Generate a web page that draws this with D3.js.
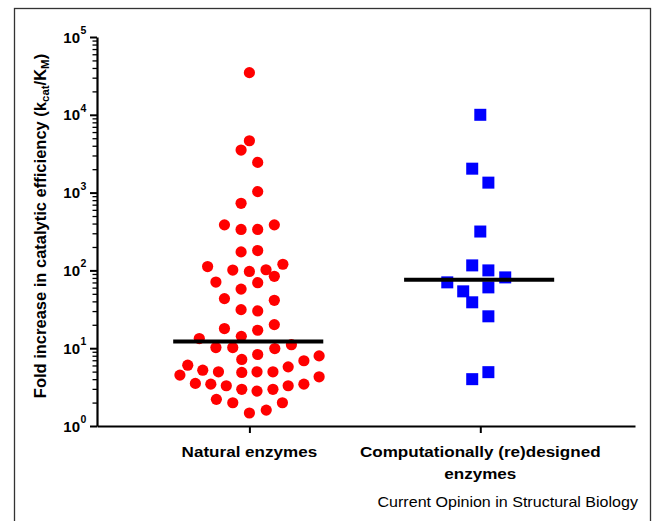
<!DOCTYPE html>
<html>
<head>
<meta charset="utf-8">
<script src="https://cdn.jsdelivr.net/npm/d3@7/dist/d3.min.js"></script>
<style>
body { margin: 0; background: #fff; }
text { font-family: "Liberation Sans", Arial, sans-serif; }
</style>
</head>
<body>
<svg width="653" height="521"></svg>
<script>
// column labels (second one wraps over two lines)
const categories = [
    ["Natural enzymes"],
    ["Computationally (re)designed", "enzymes"]
]

// fold increase values
const naturalValues = [34800, 4640, 3525, 2445, 1030, 729, 385, 336, 336, 385,
    173, 180, 112, 101, 97, 102, 120, 84, 70.8, 69.5,
    57.5, 43.4, 41.3, 31.3, 30.1, 17.9, 17.0, 20.1, 13.3, 14.2,
    10.2, 10.2, 9.9, 11.1, 7.17, 8.3, 6.9, 7.96, 6.05, 4.51,
    5.22, 4.97, 4.88, 4.97, 4.97, 5.76, 4.29, 3.53, 3.45, 3.29,
    2.96, 2.81, 2.96, 3.29, 3.45, 2.2, 1.99, 1.6, 1.47, 1.99]
// horizontal scatter of each point, in column units
const naturalJitter = [0, 0, -0.036, 0.036, 0.036, -0.036, -0.108, -0.036, 0.036, 0.108,
    -0.036, 0.036, -0.181, -0.072, 0, 0.072, 0.145, 0.108, -0.145, 0.036,
    -0.036, -0.108, 0.108, -0.036, 0.036, -0.108, 0.036, 0.108, -0.217, -0.035,
    -0.145, -0.072, 0.110, 0.182, -0.033, 0.036, 0.236, 0.302, -0.267, -0.301,
    -0.202, -0.134, -0.033, 0.033, 0.102, 0.168, 0.302, -0.234, -0.167, -0.100,
    -0.033, 0.033, 0.102, 0.168, 0.236, -0.143, -0.072, 0.073, 0, 0.143]

const designedValues = [10000, 2030, 1343, 316, 116, 100, 81.3, 70.2, 53.8, 60.5,
    38.9, 25.7, 4.92, 4.0]
const designedJitter = [0, -0.035, 0.035, 0, -0.035, 0.035, 0.108, -0.143, -0.074, 0.035,
    -0.035, 0.035, 0.035, -0.035]

const yMajorTicks = [1, 10, 100, 1000, 10000, 100000]

// original lettering is a bit wider than Liberation Sans, stretch to fit
function widen(sel, factor) {
    sel.each(function() {
        let w = this.getComputedTextLength()
        d3.select(this)
            .attr("textLength", w * factor)
            .attr("lengthAdjust", "spacingAndGlyphs")
    })
}

let svg = d3.select("svg")

//frame round the figure
svg.append("rect")
    .attr("x", 14.5)
    .attr("y", 8.5)
    .attr("width", 636)
    .attr("height", 530)
    .style("fill", "none")
    .style("stroke", "#333")
    .style("stroke-width", 1.3)

let x = d3.scaleLinear().domain([0.34, 2.67]).range([97, 635])
let y = d3.scaleLog().domain([1, 1e5]).range([426, 37])

let plot = svg.append("g")

//minor ticks 2..9 in each decade
let minorTicks = []
for (let d = 0; d < 5; d++) {
    for (let k = 2; k < 10; k++) minorTicks.push(k * Math.pow(10, d))
}

plot.append("g")
    .attr("transform", "translate(97,0)")
    .call(d3.axisLeft(y).tickValues(minorTicks).tickSize(4.5).tickFormat(""))
    .call(g => g.select(".domain").remove())
    .call(g => g.selectAll("line").style("stroke-width", 1.3))

let yAxis = plot.append("g")
    .attr("transform", "translate(97,0)")
    .call(d3.axisLeft(y).tickValues(yMajorTicks).tickSize(7).tickSizeOuter(0).tickFormat(""))
yAxis.select(".domain").style("stroke-width", 2.2)
yAxis.selectAll("line").style("stroke-width", 2)

// tick labels as 10 with superscript exponent
let yLabels = plot.append("g")
yLabels.selectAll("text")
    .data(yMajorTicks).enter()
    .append("text")
    .attr("x", 80)
    .attr("y", d => y(d) + 5.5)
    .style("text-anchor", "end")
    .style("font-weight", "bold")
    .style("font-size", "15px")
    .text("10")
yLabels.selectAll("text.exp")
    .data(yMajorTicks).enter()
    .append("text")
    .classed("exp", true)
    .attr("x", 80.5)
    .attr("y", d => y(d) - 3)
    .style("font-weight", "bold")
    .style("font-size", "10.5px")
    .text(d => Math.round(Math.log10(d)))

//x axis
let xAxis = plot.append("g")
    .attr("transform", "translate(0,426)")
    .call(d3.axisBottom(x).tickValues([1, 2]).tickSize(7).tickSizeOuter(0).tickFormat(""))
xAxis.select(".domain").style("stroke-width", 2.2)
xAxis.selectAll("line").style("stroke-width", 2)

let catLabels = plot.append("g")
categories.forEach((lines, i) => {
    lines.forEach((line, j) => {
        catLabels.append("text")
            .attr("x", x(i + 1))
            .attr("y", 457 + j * 22)
            .style("text-anchor", "middle")
            .style("font-weight", "bold")
            .style("font-size", "15.5px")
            .text(line)
    })
})
widen(catLabels.selectAll("text"), 1.1)

// y axis title
let yTitle = svg.append("text")
    .attr("transform", "translate(46,226) rotate(-90)")
    .style("text-anchor", "middle")
    .style("font-weight", "bold")
    .style("font-size", "16.5px")
yTitle.append("tspan").text("Fold increase in catalytic efficiency (k")
yTitle.append("tspan").attr("baseline-shift", "-25%").style("font-size", "11.5px").text("cat")
yTitle.append("tspan").text("/K")
yTitle.append("tspan").attr("baseline-shift", "-25%").style("font-size", "11.5px").text("M")
yTitle.append("tspan").text(")")

//points
let natural = naturalValues.map((v, i) => ({value: v, pos: 1 + naturalJitter[i]}))
let designed = designedValues.map((v, i) => ({value: v, pos: 2 + designedJitter[i]}))

plot.append("g").selectAll("circle")
    .data(natural).enter()
    .append("circle")
    .attr("cx", d => x(d.pos))
    .attr("cy", d => y(d.value))
    .attr("r", 5.6)
    .style("fill", "#ff0000")

let sq = 12
plot.append("g").selectAll("rect")
    .data(designed).enter()
    .append("rect")
    .attr("x", d => x(d.pos) - sq / 2)
    .attr("y", d => y(d.value) - sq / 2)
    .attr("width", sq)
    .attr("height", sq)
    .style("fill", "#0000ff")

//median bars
let medians = [
    {pos: 1, value: d3.median(naturalValues)},
    {pos: 2, value: d3.median(designedValues)}
]
plot.append("g").selectAll("line")
    .data(medians).enter()
    .append("line")
    .attr("x1", d => x(d.pos - 0.33))
    .attr("x2", d => x(d.pos + 0.32))
    .attr("y1", d => y(d.value))
    .attr("y2", d => y(d.value))
    .style("stroke", "#000")
    .style("stroke-width", 4)

let source = svg.append("text")
    .attr("x", 638)
    .attr("y", 507)
    .style("text-anchor", "end")
    .style("font-size", "15px")
    .text("Current Opinion in Structural Biology")
widen(source, 1.07)
</script>
</body>
</html>
